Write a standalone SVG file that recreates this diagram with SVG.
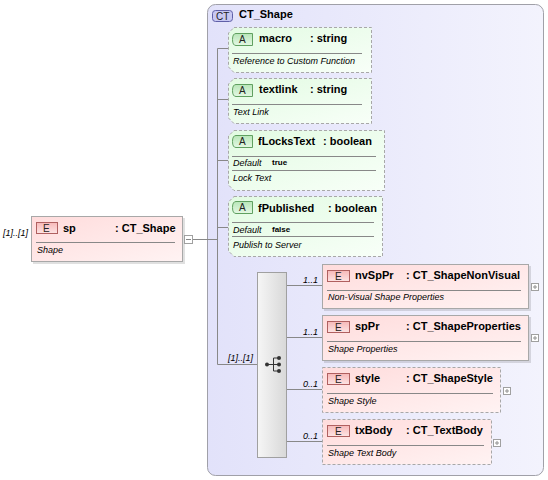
<svg xmlns="http://www.w3.org/2000/svg" width="548" height="480" viewBox="0 0 548 480">
<defs>
<linearGradient id="gCont" x1="0" y1="0" x2="1" y2="0"><stop offset="0" stop-color="#e2e2fa"/><stop offset="1" stop-color="#f3f3fd"/></linearGradient>
<linearGradient id="gAttr" x1="0" y1="0" x2="1" y2="1"><stop offset="0" stop-color="#e2fbe2"/><stop offset="1" stop-color="#f8fff8"/></linearGradient>
<linearGradient id="gElem" x1="0" y1="0" x2="1" y2="1"><stop offset="0" stop-color="#ffdcdc"/><stop offset="1" stop-color="#fff3f3"/></linearGradient>
<linearGradient id="gE" x1="0" y1="0" x2="0" y2="1"><stop offset="0" stop-color="#f7b8b8"/><stop offset="1" stop-color="#fde4e4"/></linearGradient>
<linearGradient id="gA" x1="0" y1="0" x2="0" y2="1"><stop offset="0" stop-color="#b8e6b8"/><stop offset="1" stop-color="#e4f8e4"/></linearGradient>
<linearGradient id="gSeq" x1="0" y1="0" x2="1" y2="0"><stop offset="0" stop-color="#f6f6f6"/><stop offset="1" stop-color="#d8d8d8"/></linearGradient>
</defs>
<style>
.t{font-family:"Liberation Sans",Arial,sans-serif;fill:#000}
.n{font-size:11px;font-weight:bold}
.d{font-size:9px;font-style:italic}
.df{font-size:8px;font-weight:bold}
.m{font-size:9px;font-style:italic}
.b{font-size:10px;fill:#222}
.ln{stroke:#888;stroke-width:1;fill:none}
.sep{stroke:#888;stroke-width:1}
.attr{fill:url(#gAttr);stroke:#a8a8a8;stroke-dasharray:3,2}
.el{fill:url(#gElem);stroke:#a8a8a8}
.eld{fill:url(#gElem);stroke:#a8a8a8;stroke-dasharray:3,2}
.sh{fill:#000;opacity:0.12}
.eb{fill:url(#gE);stroke:#b06060}
.ab{fill:url(#gA);stroke:#60a060}
.pm{fill:#fff;stroke:#a0a0a0}
.pl{stroke:#909090;stroke-width:1;fill:none}
</style>

<g id="CT_Shape">
<rect x="207.5" y="4.5" width="336" height="471" rx="8" fill="url(#gCont)" stroke="#a0a0a8"/>
<rect x="212.5" y="10.5" width="20" height="11" rx="3" fill="#c8c8f2" stroke="#6060a8"/>
<text class="t b" x="216" y="19.5">CT</text>
<text class="t n" x="239" y="18">CT_Shape</text>
</g>

<g id="connectors">
<path class="ln" d="M192,239.5H217.5M217.5,48.5V364.5M217.5,48.5H228M217.5,99.5H228M217.5,160.5H228M217.5,227.5H228M217.5,364.5H257"/>
<path class="ln" d="M286,285.5H322M286,337.5H322M286,389.5H322M286,441.5H322"/>
<text class="t m" x="303" y="283">1..1</text>
<text class="t m" x="303" y="335">1..1</text>
<text class="t m" x="303" y="387">0..1</text>
<text class="t m" x="303" y="439">0..1</text>
<text class="t m" x="228" y="361">[1]..[1]</text>
</g>

<g id="sp">
<rect class="sh" x="33" y="218" width="152" height="46"/>
<rect class="el" x="31.5" y="216.5" width="151" height="45"/>
<rect class="eb" x="36.5" y="222.5" width="21" height="11"/>
<text class="t b" x="43" y="231.5">E</text>
<text class="t n" x="63" y="232">sp</text>
<text class="t n" x="115" y="232">: CT_Shape</text>
<line class="sep" x1="36" y1="242.5" x2="175" y2="242.5"/>
<text class="t d" x="37" y="253">Shape</text>
<rect class="pm" x="184.5" y="235.5" width="8" height="8"/>
<line x1="186" y1="239.5" x2="191" y2="239.5" stroke="#888"/>
<text class="t m" x="3" y="236">[1]..[1]</text>
</g>

<g id="macro">
<path class="attr" d="M234,27.5H371.5V72.5H234L228.5,67V33Z"/>
<path class="ab" d="M236,33.5H252.5V45.5H236Q232.5,45.5 232.5,39.5Q232.5,33.5 236,33.5Z"/>
<text class="t b" x="239" y="43">A</text>
<text class="t n" x="259" y="42">macro</text>
<text class="t n" x="310" y="42">: string</text>
<line class="sep" x1="232" y1="53.5" x2="362" y2="53.5"/>
<text class="t d" x="233" y="64">Reference to Custom Function</text>
</g>

<g id="textlink">
<path class="attr" d="M234,78.5H371.5V123.5H234L228.5,118V84Z"/>
<path class="ab" d="M236,84.5H252.5V96.5H236Q232.5,96.5 232.5,90.5Q232.5,84.5 236,84.5Z"/>
<text class="t b" x="239" y="94">A</text>
<text class="t n" x="259" y="93">textlink</text>
<text class="t n" x="310" y="93">: string</text>
<line class="sep" x1="232" y1="104.5" x2="362" y2="104.5"/>
<text class="t d" x="233" y="115">Text Link</text>
</g>

<g id="fLocksText">
<path class="attr" d="M234,130.5H384.5V190.5H234L228.5,185V136Z"/>
<path class="ab" d="M236,135.5H252.5V147.5H236Q232.5,147.5 232.5,141.5Q232.5,135.5 236,135.5Z"/>
<text class="t b" x="239" y="145">A</text>
<text class="t n" x="258" y="145">fLocksText</text>
<text class="t n" x="323" y="145">: boolean</text>
<line class="sep" x1="232" y1="156.5" x2="376" y2="156.5"/>
<text class="t d" x="233" y="166">Default</text>
<text class="t df" x="272" y="165">true</text>
<line class="sep" x1="232" y1="170.5" x2="376" y2="170.5"/>
<text class="t d" x="233" y="181">Lock Text</text>
</g>

<g id="fPublished">
<path class="attr" d="M234,196.5H382.5V256.5H234L228.5,251V202Z"/>
<path class="ab" d="M236,201.5H252.5V213.5H236Q232.5,213.5 232.5,207.5Q232.5,201.5 236,201.5Z"/>
<text class="t b" x="239" y="211">A</text>
<text class="t n" x="258" y="212">fPublished</text>
<text class="t n" x="328" y="212">: boolean</text>
<line class="sep" x1="232" y1="222.5" x2="374" y2="222.5"/>
<text class="t d" x="233" y="233">Default</text>
<text class="t df" x="272" y="232">false</text>
<line class="sep" x1="232" y1="236.5" x2="374" y2="236.5"/>
<text class="t d" x="233" y="248">Publish to Server</text>
</g>

<g id="sequence">
<rect x="257.5" y="272.5" width="29" height="185" fill="url(#gSeq)" stroke="#a0a0a0"/>
<path d="M267,364.5H273.5M273.5,358V371M273.5,358H279M273.5,364.5H279M273.5,371H279" stroke="#333" fill="none"/>
<circle cx="267" cy="364.5" r="2" fill="#333"/>
<circle cx="279" cy="358" r="2" fill="#333"/>
<circle cx="279" cy="364.5" r="2" fill="#333"/>
<circle cx="279" cy="371" r="2" fill="#333"/>
</g>

<g id="nvSpPr">
<rect class="sh" x="324" y="266" width="207" height="45"/>
<rect class="el" x="322.5" y="264.5" width="206" height="44"/>
<rect class="eb" x="327.5" y="270.5" width="22" height="11"/>
<text class="t b" x="335" y="279.5">E</text>
<text class="t n" x="355" y="279">nvSpPr</text>
<text class="t n" x="406" y="279">: CT_ShapeNonVisual</text>
<line class="sep" x1="327" y1="290.5" x2="521" y2="290.5"/>
<text class="t d" x="328" y="300">Non-Visual Shape Properties</text>
<rect class="pm" x="531.5" y="283.5" width="7" height="7"/>
<path class="pl" d="M533,287H537M535,285V289"/>
</g>

<g id="spPr">
<rect class="sh" x="324" y="317" width="207" height="46"/>
<rect class="el" x="322.5" y="315.5" width="206" height="45"/>
<rect class="eb" x="327.5" y="321.5" width="22" height="11"/>
<text class="t b" x="335" y="330.5">E</text>
<text class="t n" x="355" y="330">spPr</text>
<text class="t n" x="406" y="330">: CT_ShapeProperties</text>
<line class="sep" x1="327" y1="341.5" x2="521" y2="341.5"/>
<text class="t d" x="328" y="352">Shape Properties</text>
<rect class="pm" x="531.5" y="334.5" width="7" height="7"/>
<path class="pl" d="M533,338H537M535,336V340"/>
</g>

<g id="style">
<rect class="eld" x="322.5" y="367.5" width="178" height="45"/>
<rect class="eb" x="327.5" y="373.5" width="22" height="11"/>
<text class="t b" x="335" y="382.5">E</text>
<text class="t n" x="355" y="382">style</text>
<text class="t n" x="406" y="382">: CT_ShapeStyle</text>
<line class="sep" x1="327" y1="393.5" x2="493" y2="393.5"/>
<text class="t d" x="328" y="404">Shape Style</text>
<rect class="pm" x="503.5" y="387.5" width="7" height="7"/>
<path class="pl" d="M505,391H509M507,389V393"/>
</g>

<g id="txBody">
<rect class="eld" x="322.5" y="419.5" width="169" height="45"/>
<rect class="eb" x="327.5" y="425.5" width="22" height="11"/>
<text class="t b" x="335" y="434.5">E</text>
<text class="t n" x="355" y="434">txBody</text>
<text class="t n" x="406" y="434">: CT_TextBody</text>
<line class="sep" x1="327" y1="445.5" x2="484" y2="445.5"/>
<text class="t d" x="328" y="456">Shape Text Body</text>
<rect class="pm" x="493.5" y="439.5" width="7" height="7"/>
<path class="pl" d="M495,443H499M497,441V445"/>
</g>
</svg>
